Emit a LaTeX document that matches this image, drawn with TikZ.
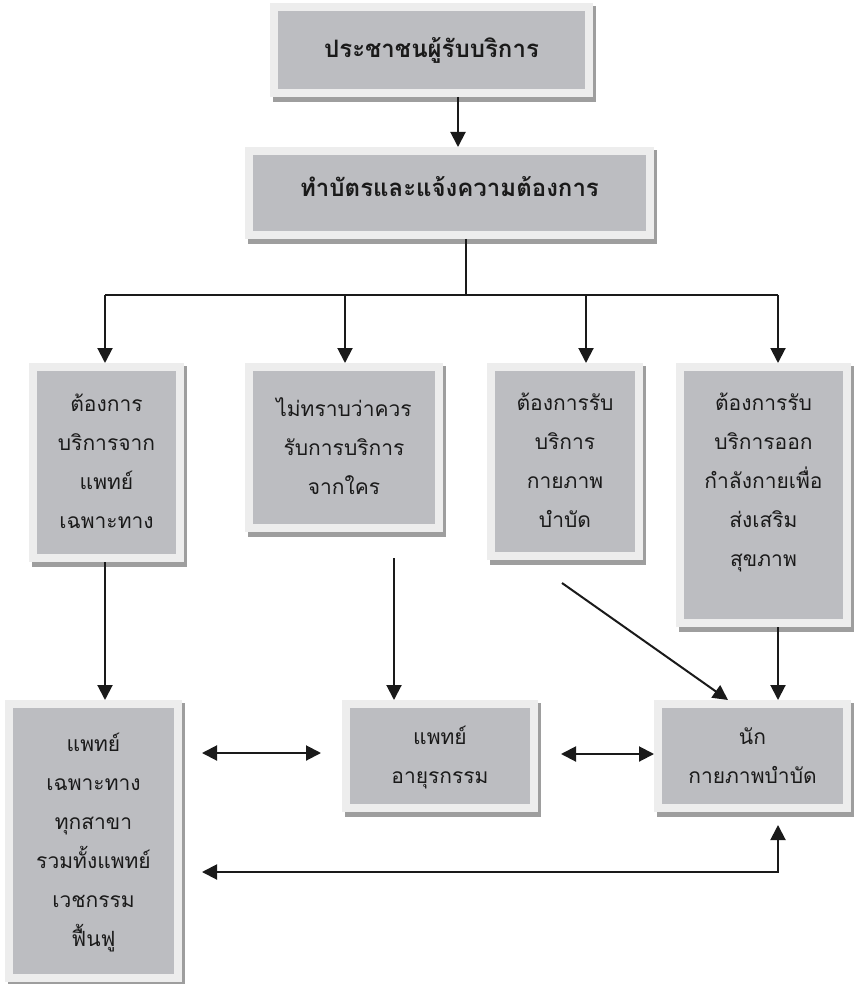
\documentclass[tikz,border=0pt]{standalone}
\usepackage{fontspec}
\newfontfamily\thaifont[Script=Thai]{Loma}
\usetikzlibrary{arrows.meta}
\definecolor{framec}{HTML}{EDEDED}
\definecolor{innerc}{HTML}{BCBDC1}
\definecolor{shadowc}{HTML}{9E9E9E}
\definecolor{inkc}{HTML}{1A1A1A}
\newcommand\tl[1]{\begin{tabular}{@{}c@{}}#1\end{tabular}}
\newcommand\bx[7]{%
  \fill[shadowc] (#2+3,#3+3) rectangle (#4+3,#5+5);
  \node[box,#6,minimum width={#4-#2-8},minimum height={#5-#3-8}] (#1) at ({(#2+#4)/2},{(#3+#5)/2}) {#7};
}
\begin{document}
\begin{tikzpicture}[x=1pt,y=-1pt,
  box/.style={draw=framec,line width=8pt,fill=innerc,inner sep=0pt,text=inkc,
    font={\thaifont\fontsize{21}{39}\selectfont}},
  boldbox/.style={font={\thaifont\bfseries\fontsize{24}{30}\selectfont}},
  arr/.style={draw=inkc,line width=2pt,-{Triangle[length=15pt,width=15pt]}},
  darr/.style={draw=inkc,line width=2pt,{Triangle[length=15pt,width=15pt]}-{Triangle[length=15pt,width=15pt]}},
  plain/.style={draw=inkc,line width=2pt}]
\useasboundingbox (0,0) rectangle (854,984);
\bx{top}{270}{3}{593}{97}{boldbox}{ประชาชนผู้รับบริการ}
\bx{card}{245}{147}{654}{239}{boldbox}{\raisebox{6pt}[\height][\depth]{ทำบัตรและแจ้งความต้องการ}}
\bx{a}{29}{363}{184}{562}{}{\tl{ต้องการ\\บริการจาก\\แพทย์\\เฉพาะทาง}}
\bx{b}{245}{363}{443}{532}{}{\tl{ไม่ทราบว่าควร\\รับการบริการ\\จากใคร}}
\bx{c}{487}{363}{643}{560}{}{\tl{ต้องการรับ\\บริการ\\กายภาพ\\บำบัด}}
\bx{d}{676}{363}{851}{627}{}{\raisebox{14pt}[\height][\depth]{\tl{ต้องการรับ\\บริการออก\\กำลังกายเพื่อ\\ส่งเสริม\\สุขภาพ}}}
\bx{e}{5}{700}{182}{982}{}{\tl{แพทย์\\เฉพาะทาง\\ทุกสาขา\\รวมทั้งแพทย์\\เวชกรรม\\ฟื้นฟู}}
\bx{f}{342}{700}{538}{812}{}{\tl{แพทย์\\อายุรกรรม}}
\bx{g}{654}{700}{851}{812}{}{\tl{นัก\\กายภาพบำบัด}}
% coordinates
\coordinate (xt) at (458,0);
\coordinate (j) at (466,295);
\coordinate (ja) at (105,295);
\coordinate (jb) at (345,295);
\coordinate (jc) at (586,295);
\coordinate (jd) at (778,295);
\coordinate (bf) at (394,558);
\coordinate (cg) at (562,583);
\coordinate (xg) at (728,0);
\coordinate (ef1) at (202,753);
\coordinate (ef2) at (321,753);
\coordinate (fg1) at (561,754);
\coordinate (eg1) at (202,872);
\coordinate (eg2) at (778,825);
% connectors
\draw[arr] (top.south -| xt) -- (card.north -| xt);
\draw[plain] (card.south -| j) -- (j);
\draw[plain] (ja) -- (jd);
\draw[arr] (ja) -- (ja |- a.north);
\draw[arr] (jb) -- (jb |- b.north);
\draw[arr] (jc) -- (jc |- c.north);
\draw[arr] (jd) -- (jd |- d.north);
\draw[arr] (a.south -| ja) -- (e.north -| ja);
\draw[arr] (bf) -- (bf |- f.north);
\draw[arr] (cg) -- (xg |- g.north);
\draw[arr] (d.south -| jd) -- (g.north -| jd);
\draw[darr] (ef1) -- (ef2);
\draw[darr] (fg1) -- (fg1 -| g.west);
\draw[darr] (eg1) -| (eg2);
\end{tikzpicture}
\end{document}
